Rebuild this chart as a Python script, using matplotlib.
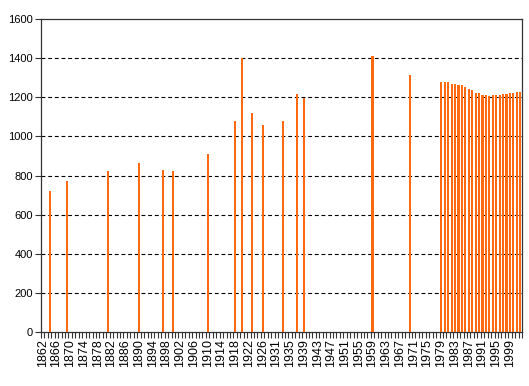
import matplotlib
matplotlib.use("Agg")
import matplotlib.pyplot as plt
import numpy as np

# Categories: years 1862-2002 (one year absent from the series, 1930)
years = [y for y in range(1862, 2003) if y != 1930]

data_years = [1864, 1869, 1881, 1890, 1897, 1900, 1910, 1918, 1920, 1923,
              1926, 1933, 1937, 1939, 1959, 1970,
              1979, 1980, 1981, 1982, 1983, 1984, 1985, 1986, 1987, 1988,
              1989, 1990, 1991, 1992, 1993, 1994, 1995, 1996, 1997, 1998,
              1999, 2000, 2001, 2002]
data_values = [720, 770, 825, 866, 830, 825, 912, 1080, 1400, 1120,
               1060, 1080, 1217, 1197, 1410, 1314,
               1278, 1278, 1278, 1268, 1268, 1263, 1263, 1253, 1242, 1237,
               1222, 1222, 1212, 1212, 1207, 1212, 1212, 1212, 1217, 1217,
               1222, 1222, 1227, 1227]

y_ticks = [0, 200, 400, 600, 800, 1000, 1200, 1400, 1600]

plt.rcParams['font.family'] = ['Liberation Sans', 'DejaVu Sans']

fig = plt.figure(figsize=(5.29, 3.86), dpi=100)
ax = fig.add_axes([41 / 529, 54 / 386, 481 / 529, 313 / 386])

idx = {y: i for i, y in enumerate(years)}
xs = [idx[y] for y in data_years]
ax.bar(xs, data_values, width=0.62, color='#FF6A10', zorder=3)

ax.set_xlim(-0.5, len(years) - 0.5)
ax.set_ylim(0, 1600)

ax.set_yticks(y_ticks)
ax.set_yticklabels([str(v) for v in y_ticks], fontsize=8)
for v in y_ticks[1:-1]:
    ax.axhline(v, color='black', linewidth=0.8, dashes=(3.5, 2.5), zorder=1)

label_pos = list(range(0, len(years), 4))
ax.set_xticks(label_pos)
ax.set_xticklabels([str(years[i]) for i in label_pos], rotation=90, fontsize=9)
ax.set_xticks(np.arange(-0.5, len(years), 1.0), minor=True)
ax.tick_params(axis='x', which='major', length=0, pad=5)
ax.tick_params(axis='x', which='minor', length=4, width=0.8, color='#333333')
ax.tick_params(axis='y', which='major', length=4, width=0.8, color='#333333', pad=2)

for s in ax.spines.values():
    s.set_color('#333333')
    s.set_linewidth(0.9)

fig.savefig('out.png', dpi=100)
